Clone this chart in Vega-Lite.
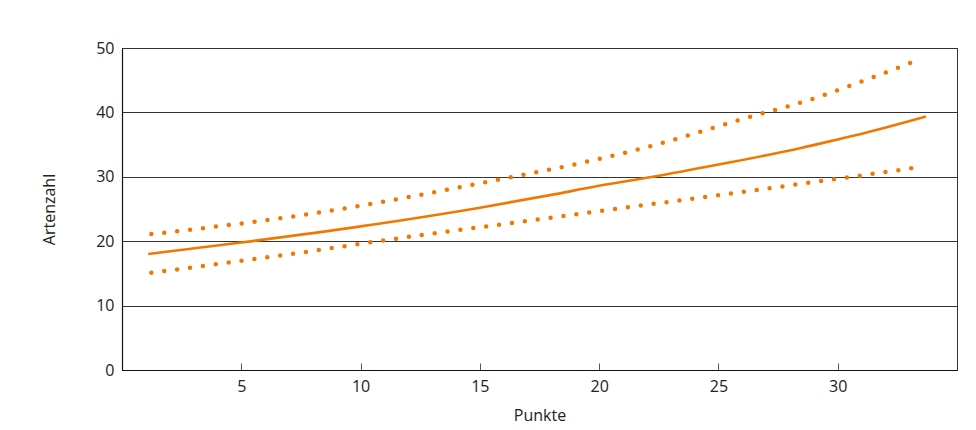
{
  "$schema": "https://vega.github.io/schema/vega-lite/v6.json",
  "width": 835,
  "height": 322,
  "autosize": "none",
  "padding": {"left": 122, "top": 48, "right": 19, "bottom": 60},
  "background": "white",
  "config": {
    "view": {"stroke": "#333333", "strokeWidth": 1},
    "font": "Open Sans",
    "axis": {
      "labelFont": "Open Sans",
      "labelFontSize": 16,
      "labelColor": "#222222",
      "titleFont": "Open Sans",
      "titleFontSize": 16,
      "titleFontWeight": "normal",
      "titleColor": "#222222",
      "domainColor": "#111111",
      "domainWidth": 1.2
    }
  },
  "data": {
    "values": [
      {"x": 1.1, "y": 18.0, "s": "fit"},
      {"x": 5, "y": 19.8, "s": "fit"},
      {"x": 10, "y": 22.3, "s": "fit"},
      {"x": 15, "y": 25.2, "s": "fit"},
      {"x": 17.94, "y": 27.15, "s": "fit"},
      {"x": 20, "y": 28.6, "s": "fit"},
      {"x": 22.26, "y": 30.0, "s": "fit"},
      {"x": 25, "y": 31.9, "s": "fit"},
      {"x": 28.42, "y": 34.44, "s": "fit"},
      {"x": 30, "y": 35.8, "s": "fit"},
      {"x": 31.14, "y": 36.8, "s": "fit"},
      {"x": 33.7, "y": 39.35, "s": "fit"},
      {"x": 1.23, "y": 21.1, "s": "upper"},
      {"x": 7.73, "y": 24.14, "s": "upper"},
      {"x": 16.4, "y": 30.0, "s": "upper"},
      {"x": 17.94, "y": 31.12, "s": "upper"},
      {"x": 21.72, "y": 34.33, "s": "upper"},
      {"x": 26.99, "y": 40.0, "s": "upper"},
      {"x": 28.03, "y": 41.05, "s": "upper"},
      {"x": 31.14, "y": 44.99, "s": "upper"},
      {"x": 33.18, "y": 47.87, "s": "upper"},
      {"x": 1.23, "y": 15.1, "s": "lower"},
      {"x": 7.73, "y": 18.35, "s": "lower"},
      {"x": 10.74, "y": 20.0, "s": "lower"},
      {"x": 18.03, "y": 23.67, "s": "lower"},
      {"x": 28.35, "y": 28.85, "s": "lower"},
      {"x": 31.07, "y": 30.25, "s": "lower"},
      {"x": 33.23, "y": 31.4, "s": "lower"}
    ]
  },
  "encoding": {
    "x": {
      "field": "x",
      "type": "quantitative",
      "scale": {"domain": [0, 35], "nice": false, "zero": false},
      "axis": {
        "values": [5, 10, 15, 20, 25, 30],
        "grid": false,
        "tickSize": -7,
        "tickColor": "#555555",
        "labelPadding": 15,
        "title": "Punkte",
        "titlePadding": 13
      }
    },
    "y": {
      "field": "y",
      "type": "quantitative",
      "scale": {"domain": [0, 50], "nice": false},
      "axis": {
        "values": [0, 10, 20, 30, 40, 50],
        "grid": true,
        "gridColor": "#333333",
        "gridOpacity": 1,
        "gridWidth": 1,
        "ticks": false,
        "labelPadding": 8,
        "title": "Artenzahl",
        "titlePadding": 38
      }
    }
  },
  "layer": [
    {
      "transform": [{"filter": "datum.s === 'fit'"}],
      "mark": {"type": "line", "color": "#f07800", "strokeWidth": 2.6, "interpolate": "monotone"}
    },
    {
      "transform": [{"filter": "datum.s !== 'fit'"}],
      "mark": {"type": "line", "color": "#f07800", "strokeWidth": 4.5, "strokeDash": [0, 13], "strokeCap": "round", "interpolate": "monotone"},
      "encoding": {"detail": {"field": "s"}}
    }
  ]
}
